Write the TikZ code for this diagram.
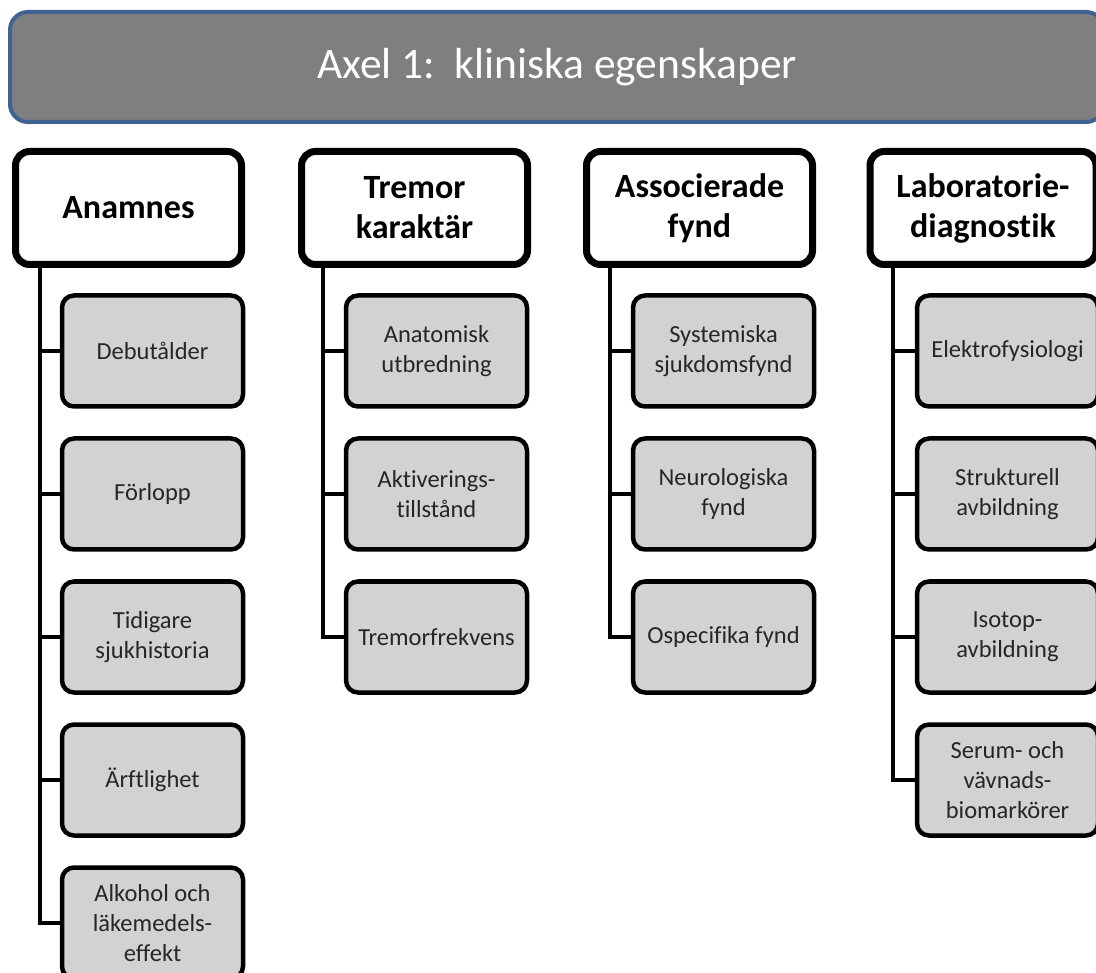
\documentclass[tikz,border=0pt]{standalone}
\usepackage{fontspec}
\setmainfont{Carlito}[Ligatures=NoCommon]
\usetikzlibrary{calc}
\definecolor{titlefill}{HTML}{7F7F7F}
\definecolor{titleborder}{HTML}{3F6193}
\definecolor{childfill}{HTML}{D2D2D2}
\definecolor{childtext}{HTML}{262626}
\begin{document}
\begin{tikzpicture}[x=1pt,y=-1pt,
 titlebox/.style={draw=titleborder, line width=4pt, fill=titlefill, rounded corners=18pt,
   minimum width=1094pt, minimum height=110pt, inner sep=0pt, text=white,
   font=\fontsize{43.5}{50}\selectfont},
 headbox/.style={draw=black, line width=7pt, fill=white, rounded corners=14pt,
   minimum width=226pt, minimum height=113pt, inner sep=0pt, align=center,
   font=\fontsize{34}{40}\selectfont\bfseries},
 childbox/.style={draw=black, line width=4.5pt, fill=childfill, rounded corners=12pt,
   minimum width=181pt, minimum height=111pt, inner sep=0pt, align=center,
   text=childtext, font=\fontsize{24.5}{30}\selectfont},
 conn/.style={line width=4pt, draw=black, line join=miter}
]
\clip (0,0) rectangle (1096,973);
\fill[white] (0,0) rectangle (1096,973);

% title
\node[titlebox] (title) at (557,67) {Axel 1:\ \ kliniska egenskaper};

% column headers
\node[headbox] (hA) at (128.5,208) {Anamnes};
\node[headbox] (hT) at (414.5,208) {Tremor\\karaktär};
\node[headbox] (hS) at (699.5,208) {Associerade\\fynd};
\node[headbox] (hL) at (983,208) {Laboratorie-\\diagnostik};

% spine coordinates
\coordinate (sA) at (40,0);
\coordinate (sT) at (323,0);
\coordinate (sS) at (610,0);
\coordinate (sL) at (893,0);

% Anamnes children
\node[childbox] (a1) at (152.5,351) {Debutålder};
\node[childbox] (a2) at (152.5,494) {Förlopp};
\node[childbox] (a3) at (152.5,637) {Tidigare\\sjukhistoria};
\node[childbox] (a4) at (152.5,780) {Ärftlighet};
\node[childbox] (a5) at (152.5,923) {Alkohol och\\läkemedels-\\effekt};

% Tremor children
\node[childbox] (t1) at (436.5,351) {Anatomisk\\utbredning};
\node[childbox] (t2) at (436.5,494) {Aktiverings-\\tillstånd};
\node[childbox] (t3) at (436.5,637) {Tremorfrekvens};

% Associerade children
\node[childbox] (s1) at (723.5,351) {Systemiska\\sjukdomsfynd};
\node[childbox] (s2) at (723.5,494) {Neurologiska\\fynd};
\node[childbox] (s3) at (723.5,637) {Ospecifika fynd};

% Laboratorie children
\node[childbox] (l1) at (1007.5,351) {Elektrofysiologi};
\node[childbox] (l2) at (1007.5,494) {Strukturell\\avbildning};
\node[childbox] (l3) at (1007.5,637) {Isotop-\\avbildning};
\node[childbox] (l4) at (1007.5,780) {Serum- och\\vävnads-\\biomarkörer};

% connectors
\draw[conn] (hA.south -| sA) |- (a5.west);
\foreach \c in {a1,a2,a3,a4} \draw[conn] (\c.west -| sA) -- (\c.west);
\draw[conn] (hT.south -| sT) |- (t3.west);
\foreach \c in {t1,t2} \draw[conn] (\c.west -| sT) -- (\c.west);
\draw[conn] (hS.south -| sS) |- (s3.west);
\foreach \c in {s1,s2} \draw[conn] (\c.west -| sS) -- (\c.west);
\draw[conn] (hL.south -| sL) |- (l4.west);
\foreach \c in {l1,l2,l3} \draw[conn] (\c.west -| sL) -- (\c.west);
\end{tikzpicture}
\end{document}
